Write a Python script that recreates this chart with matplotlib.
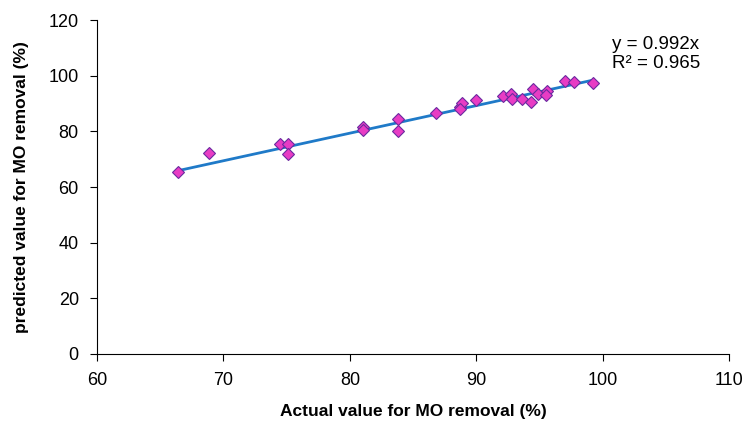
import matplotlib.pyplot as plt
import numpy as np

plt.rcParams['font.family'] = ['Liberation Sans', 'DejaVu Sans']

# Actual vs predicted MO removal (%)
actual = [66.4, 68.9, 74.5, 75.1, 75.1, 81.0, 81.0, 83.8, 83.8, 86.8,
          88.7, 88.9, 88.7, 90.0, 92.1, 92.7, 92.8, 93.6, 94.3, 94.5,
          94.9, 95.6, 95.5, 97.0, 97.7, 99.2]
predicted = [65.3, 72.2, 75.5, 75.5, 71.9, 81.6, 80.4, 84.4, 80.2, 86.5,
             88.9, 90.1, 88.2, 91.3, 92.6, 93.4, 91.6, 91.6, 90.7, 95.4,
             93.6, 94.7, 93.0, 98.1, 97.9, 97.5]
slope = 0.992
r2 = 0.965

fig = plt.figure(figsize=(7.45, 4.28), dpi=100)
ax = fig.add_axes([0.130, 0.173, 0.849, 0.780])

# trendline through origin
xl = np.array([min(actual), max(actual)])
ax.plot(xl, slope * xl, color='#1f7ac8', lw=2.0, zorder=2)

ax.plot(actual, predicted, linestyle='none', marker='D', markersize=6.5,
        markerfacecolor='#e83cc4', markeredgecolor='#6a2aa0',
        markeredgewidth=0.8, zorder=3)

ax.text(100.7, 114.3, 'y = %.3fx\nR² = %.3f' % (slope, r2), fontsize=13.5,
        va='top', ha='left', linespacing=1.15)

ax.set_xlim(60, 110)
ax.set_ylim(0, 120)
ax.set_xticks(range(60, 111, 10))
ax.set_yticks(range(0, 121, 20))
ax.spines['top'].set_visible(False)
ax.spines['right'].set_visible(False)
ax.tick_params(labelsize=13, length=5, direction='out', pad=8)

ax.set_xlabel('Actual value for MO removal (%)', fontsize=12.5, fontweight='bold',
              labelpad=11)
ax.set_ylabel('predicted value for MO removal (%)', fontsize=12.5, fontweight='bold',
              labelpad=14)

plt.savefig('out.png')
